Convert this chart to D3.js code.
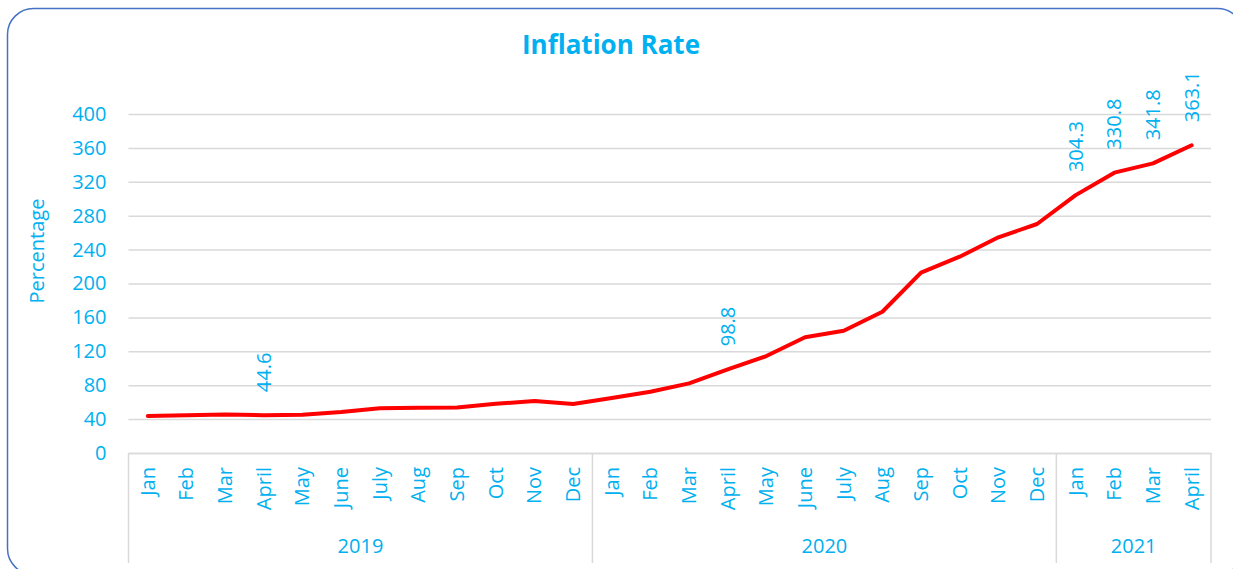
<!DOCTYPE html>
<html>
<head>
<meta charset="utf-8">
<script src="https://cdn.jsdelivr.net/npm/d3@7"></script>
<style>
  html, body { margin: 0; padding: 0; background: #fff; }
  svg { display: block; font-family: "Open Sans", sans-serif; }
</style>
</head>
<body>
<svg id="chart" width="1233" height="569"></svg>
<script>
// data
const months = ["Jan", "Feb", "Mar", "April", "May", "June", "July", "Aug", "Sep", "Oct", "Nov", "Dec",
                "Jan", "Feb", "Mar", "April", "May", "June", "July", "Aug", "Sep", "Oct", "Nov", "Dec",
                "Jan", "Feb", "Mar", "April"]
const years = ["2019", "2020", "2021"]
const yearCounts = [12, 12, 4]
const inflation = [43.7, 44.6, 45.3, 44.6, 45.0, 48.3, 52.8, 53.4, 53.7, 58.0, 61.3, 57.8,
                   65.0, 72.3, 82.2, 98.8, 114.4, 136.5, 144.3, 166.7, 212.8, 231.6, 254.5, 270.2,
                   304.3, 330.8, 341.8, 363.1]
const labelled = [3, 15, 24, 25, 26, 27] // points that carry a value label
const yTicks = [0, 40, 80, 120, 160, 200, 240, 280, 320, 360, 400]

const blue = "#00b0f0"
const plotLeft = 128.5, plotRight = 1211, plotTop = 114, plotBottom = 453

const svg = d3.select("#chart")

// outer rounded frame
svg.append("rect")
    .attr("x", 7.5).attr("y", 8.5)
    .attr("width", 1236).attr("height", 566)
    .attr("rx", 26)
    .attr("fill", "#fff")
    .attr("stroke", "#4472c4")
    .attr("stroke-width", 1.5)

svg.append("text")
    .attr("x", 611).attr("y", 54)
    .attr("text-anchor", "middle")
    .attr("fill", blue)
    .attr("font-size", 26)
    .attr("font-weight", "bold")
    .text("Inflation Rate")

// scales
const idx = d3.range(months.length)
const xScale = d3.scaleBand()
    .domain(idx)
    .range([plotLeft, plotRight])
const yScale = d3.scaleLinear()
    .domain([0, 400])
    .range([plotBottom, plotTop])
const xc = (i) => xScale(i) + xScale.bandwidth() / 2

// gridlines + y axis
const yAxis = d3.axisLeft(yScale)
    .tickValues(yTicks)
    .tickSize(-(plotRight - plotLeft))
    .tickPadding(22)
svg.append("g")
    .attr("transform", `translate(${plotLeft},0)`)
    .call(yAxis)
    .call(g => g.select(".domain").remove())
    .call(g => g.selectAll(".tick line")
        .attr("stroke", "#d9d9d9").attr("stroke-width", 1.5))
    .call(g => g.selectAll(".tick text")
        .attr("fill", blue).attr("font-size", 20)
        .attr("font-family", "Open Sans, sans-serif"))

svg.append("text")
    .attr("transform", "translate(44,251) rotate(-90)")
    .attr("text-anchor", "middle")
    .attr("fill", blue)
    .attr("font-size", 20)
    .text("Percentage")

// x axis: month labels
const xAxis = d3.axisBottom(xScale)
    .tickSize(0)
    .tickFormat(i => months[i])
svg.append("g")
    .attr("transform", `translate(0,${plotBottom})`)
    .call(xAxis)
    .call(g => g.select(".domain")
        .attr("stroke", "#d9d9d9").attr("stroke-width", 1.5))
    .call(g => g.selectAll(".tick text")
        .attr("fill", blue).attr("font-size", 20)
        .attr("font-family", "Open Sans, sans-serif")
        .attr("text-anchor", "end")
        .attr("dy", "0.35em")
        .attr("transform", "translate(0,14) rotate(-90)")
        .attr("x", 0).attr("y", 0))

// year groups: separators and labels
let starts = [0]
yearCounts.forEach((c, k) => starts.push(starts[k] + c))
const sepX = starts.map(s => s < months.length ? xScale(s) : plotRight)
svg.append("g").selectAll("line")
    .data(sepX)
    .join("line")
    .attr("x1", d => d).attr("x2", d => d)
    .attr("y1", plotBottom).attr("y2", 563)
    .attr("stroke", "#d9d9d9").attr("stroke-width", 1.5)

svg.append("g").selectAll("text")
    .data(years)
    .join("text")
    .attr("x", (d, k) => (sepX[k] + sepX[k + 1]) / 2)
    .attr("y", 553)
    .attr("text-anchor", "middle")
    .attr("fill", blue)
    .attr("font-size", 20)
    .text(d => d)

// the line
const line = d3.line()
    .x((d, i) => xc(i))
    .y(d => yScale(d))
svg.append("path")
    .attr("d", line(inflation))
    .attr("fill", "none")
    .attr("stroke", "#ff0000")
    .attr("stroke-width", 4)
    .attr("stroke-linejoin", "round")
    .attr("stroke-linecap", "round")

// value labels
svg.append("g").selectAll("text")
    .data(labelled)
    .join("text")
    .attr("transform", i => `translate(${xc(i)},${yScale(inflation[i]) - 23}) rotate(-90)`)
    .attr("dy", "0.35em")
    .attr("fill", blue)
    .attr("font-size", 20)
    .text(i => inflation[i].toFixed(1))
</script>
</body>
</html>
